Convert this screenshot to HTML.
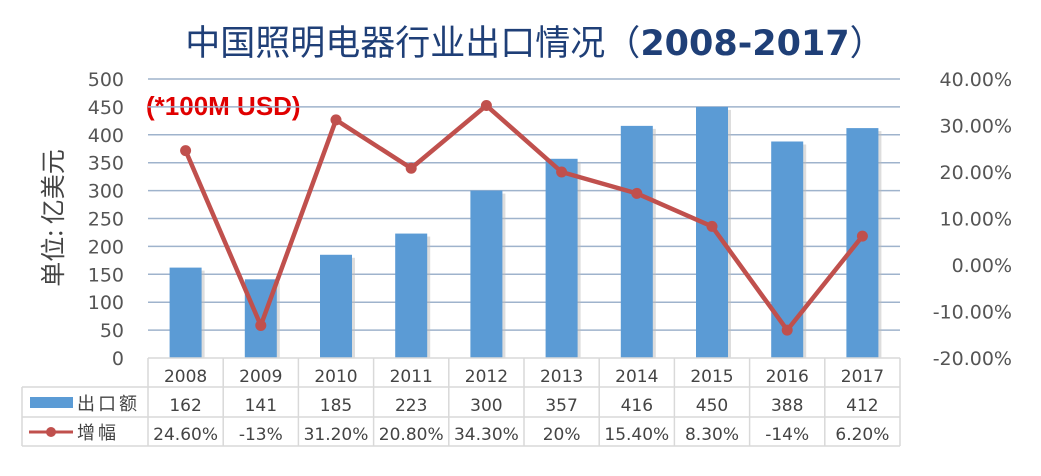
<!DOCTYPE html>
<html><head><meta charset="utf-8"><style>
body{margin:0;background:#fff;width:1041px;height:471px;overflow:hidden}
svg text{font-family:"DejaVu Sans","Liberation Sans","Noto Sans CJK SC",sans-serif}
</style></head><body>
<svg id="c" width="1041" height="471" xmlns="http://www.w3.org/2000/svg">
<text x="535" y="55" text-anchor="middle" font-size="35" fill="#1f3f77" style="font-family:'Noto Sans CJK SC',sans-serif">中国照明电器行业出口情况（<tspan font-weight="bold" style="font-family:'DejaVu Sans',sans-serif">2008-2017</tspan>）</text>
<text x="146" y="115" font-size="26" font-weight="bold" fill="#e00000" style="font-family:'Liberation Sans',sans-serif">(*100M USD)</text>
<text transform="translate(62,218) rotate(-90)" text-anchor="middle" font-size="25" fill="#444" style="font-family:'Noto Sans CJK SC',sans-serif">单位: 亿美元</text>
<g id="g"></g>
</svg>
<script>
const years=["2008","2009","2010","2011","2012","2013","2014","2015","2016","2017"];
const exportsVal=[162,141,185,223,300,357,416,450,388,412];
const growth=[24.6,-13,31.2,20.8,34.3,20,15.4,8.3,-14,6.2];
const growthLabels=["24.60%","-13%","31.20%","20.80%","34.30%","20%","15.40%","8.30%","-14%","6.20%"];
const leftTicks=[0,50,100,150,200,250,300,350,400,450,500];
const rightTicks=[-20,-10,0,10,20,30,40];
const NS="http://www.w3.org/2000/svg",g=document.getElementById('g');
const x0=148,x1=900,yTop=79,yBot=358,cw=(x1-x0)/years.length;
const yL=v=>yBot-(v/500)*(yBot-yTop);
const yR=v=>yBot-((v+20)/60)*(yBot-yTop);
const xc=i=>x0+cw*(i+0.5);
function el(t,a,txt){const e=document.createElementNS(NS,t);for(const k in a)e.setAttribute(k,a[k]);if(txt!==undefined)e.textContent=txt;g.appendChild(e);return e;}
leftTicks.forEach(v=>{
 if(v>0){const l=el('line',{x1:x0,x2:x1,y1:yL(v),y2:yL(v),stroke:'#9fb3cc','stroke-width':1.5});
 
 }
 const t=el('text',{x:124,y:yL(v)+7,'text-anchor':'end','font-size':19,fill:'#555'},v);
 
 
});
rightTicks.forEach(v=>{
 const t=el('text',{x:1012,y:yR(v)+7,'text-anchor':'end','font-size':19,fill:'#555'},v.toFixed(2)+'%');
 
 
});
exportsVal.forEach((v,i)=>{
 el('rect',{x:xc(i)-13,y:yL(v)+3,width:32,height:yBot-yL(v)-3,fill:'#bbb',opacity:0.5});
 const r=el('rect',{x:xc(i)-16,y:yL(v),width:32,height:yBot-yL(v),fill:'#5b9bd5'});
 
 
});
const pts=growth.map((v,i)=>xc(i)+','+yR(v)).join(' ');
const pl=el('polyline',{points:pts,fill:'none',stroke:'#c0504d','stroke-width':4.5,'stroke-linejoin':'round'});


growth.forEach((v,i)=>{
 const c=el('circle',{cx:xc(i),cy:yR(v),r:5.5,fill:'#c0504d'});
 
 
});
const rows=[358,387,417,446],tx=22;
el('line',{x1:x0,x2:x1,y1:rows[0],y2:rows[0],stroke:'#d9d9d9','stroke-width':1.5});
[1,2,3].forEach(k=>el('line',{x1:tx,x2:x1,y1:rows[k],y2:rows[k],stroke:'#d9d9d9','stroke-width':1.5}));
el('line',{x1:tx,x2:tx,y1:rows[1],y2:rows[3],stroke:'#d9d9d9','stroke-width':1.5});
for(let i=0;i<=years.length;i++)el('line',{x1:x0+cw*i,x2:x0+cw*i,y1:rows[0],y2:rows[3],stroke:'#d9d9d9','stroke-width':1.5});
years.forEach((y,i)=>{
 const t=el('text',{x:xc(i),y:382,'text-anchor':'middle','font-size':17,fill:'#444'},y);
 
 
 const a=el('text',{x:xc(i),y:411,'text-anchor':'middle','font-size':17,fill:'#444'},exportsVal[i]);
 
 
 const b=el('text',{x:xc(i),y:440,'text-anchor':'middle','font-size':17,fill:'#444'},growthLabels[i]);
 
 
});
const lk1=el('rect',{x:30,y:397,width:43,height:11,fill:'#5b9bd5'});


const lt1=el('text',{x:77,y:410,'font-size':18,fill:'#444','letter-spacing':'3'},'出口额');


el('line',{x1:29,x2:73,y1:432,y2:432,stroke:'#c0504d','stroke-width':3});
const lk2=el('circle',{cx:51,cy:432,r:5,fill:'#c0504d'});


const lt2=el('text',{x:77,y:439,'font-size':18,fill:'#444','letter-spacing':'3'},'增幅');


</script>
</body></html>
